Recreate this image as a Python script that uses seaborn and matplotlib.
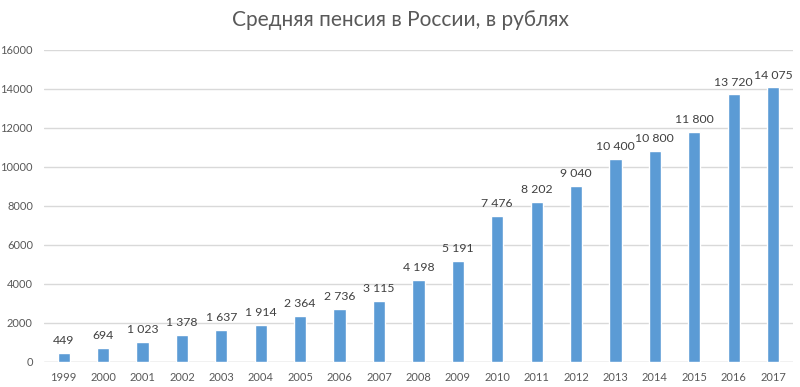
import matplotlib
matplotlib.use("Agg")
import matplotlib.pyplot as plt
import seaborn as sns
import pandas as pd

years = [str(y) for y in range(1999, 2018)]
pensions = [449, 694, 1023, 1378, 1637, 1914, 2364, 2736, 3115, 4198, 5191,
            7476, 8202, 9040, 10400, 10800, 11800, 13720, 14075]

df = pd.DataFrame({"year": years, "pension": pensions})

sns.set_theme(style="white")
plt.rcParams["font.family"] = ["Lato", "DejaVu Sans"]

fig = plt.figure(figsize=(8, 3.87), dpi=100)
ax = fig.add_axes([0.055, 0.065, 0.936, 0.806])

sns.barplot(data=df, x="year", y="pension", color="#5B9BD5", width=0.31,
            saturation=1, ax=ax, zorder=3)

ax.set_ylim(0, 16000)
ax.set_yticks(range(0, 16001, 2000))
ax.yaxis.grid(True, color="#D9D9D9", linewidth=1, zorder=0)
ax.set_axisbelow(True)
for s in ax.spines.values():
    s.set_visible(False)
ax.axhline(0, color="#D9D9D9", linewidth=1, zorder=1)

ax.tick_params(axis="both", length=0, labelsize=8, colors="#595959")
ax.tick_params(axis="y", pad=8)
ax.tick_params(axis="x", pad=7)
ax.set_xlabel("")
ax.set_ylabel("")

for i, v in enumerate(pensions):
    label = f"{v:,}".replace(",", " ")
    ax.text(i, v + 350, label, ha="center", va="bottom", fontsize=8.8, color="#404040")

fig.suptitle("Средняя пенсия в России, в рублях", y=0.975, fontsize=15, color="#595959")

plt.savefig("out.png", dpi=100)
